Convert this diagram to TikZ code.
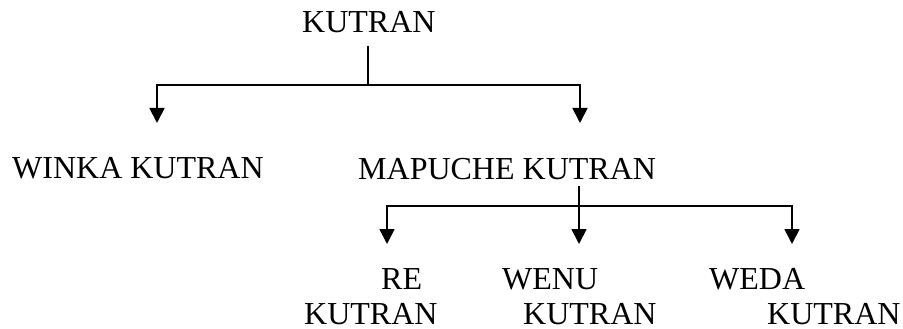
\documentclass[tikz,border=0pt]{standalone}
\usepackage{fontspec}
\setmainfont{Liberation Serif}
\usetikzlibrary{arrows.meta}
\begin{document}
\begin{tikzpicture}[x=1pt,y=-1pt,
  lbl/.style={inner sep=0pt,anchor=base west,font=\fontsize{32}{36}\selectfont},
  conn/.style={line width=1.8pt},
  arr/.style={conn,-{Triangle[width=15pt,length=15pt]}}]
\useasboundingbox (0,0) rectangle (903,329);
% nodes
\node[lbl] (top) at (302,33) {KUTRAN};
\node[lbl] (winka) at (12,178) {WINKA KUTRAN};
\node[lbl] (mapuche) at (358,179) {MAPUCHE KUTRAN};
\node[lbl] (re1) at (381,289) {RE};
\node[lbl] (re2) at (304,324) {KUTRAN};
\node[lbl] (wenu1) at (502,289) {WENU};
\node[lbl] (wenu2) at (523,324) {KUTRAN};
\node[lbl] (weda1) at (709,289) {WEDA};
\node[lbl] (weda2) at (767,324) {KUTRAN};
% junction coordinates
\coordinate (s1) at (368,46);
\coordinate (j1) at (368,85);
\coordinate (bl) at (157,85);
\coordinate (br) at (580,85);
\coordinate (tl) at (157,123);
\coordinate (tr) at (580,123);
\coordinate (s2) at (579,186);
\coordinate (j2) at (579,206);
\coordinate (cl) at (387,206);
\coordinate (cr) at (792,206);
\coordinate (ul) at (387,244);
\coordinate (um) at (579,244);
\coordinate (ur) at (792,244);
% connectors
\draw[conn] (s1) -- (j1);
\draw[arr] (j1) -- (bl) -- (tl);
\draw[arr] (j1) -- (br) -- (tr);
\draw[arr] (s2) -- (um);
\draw[arr] (j2) -- (cl) -- (ul);
\draw[arr] (j2) -- (cr) -- (ur);
\end{tikzpicture}
\end{document}
